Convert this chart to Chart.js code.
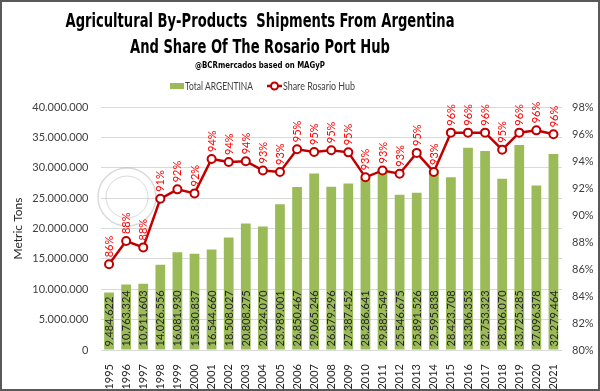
<!DOCTYPE html>
<html>
<head>
<meta charset="utf-8">
<script src="https://cdn.jsdelivr.net/npm/chart.js@4.4.0/dist/chart.umd.min.js"></script>
<style>
  html, body { margin: 0; padding: 0; background: #fff; }
  #wrap { position: relative; width: 600px; height: 391px; }
</style>
</head>
<body>
<div id="wrap"><canvas id="chart"></canvas></div>
<script>
// Data
const years = ["1995","1996","1997","1998","1999","2000","2001","2002","2003","2004","2005","2006","2007","2008","2009","2010","2011","2012","2013","2014","2015","2016","2017","2018","2019","2020","2021"]
const totalArgentina = [9484622, 10763324, 10911603, 14026556, 16081930, 15830837, 16544660, 18508027, 20808275, 20324070, 23989001, 26850467, 29065246, 26879296, 27387452, 28286641, 29882549, 25546675, 25891526, 29595838, 28423708, 33306353, 32753323, 28206070, 33725285, 27096378, 32279464]
const shareRosario = [86.35, 88.07, 87.6, 91.2, 91.9, 91.6, 94.15, 93.93, 93.98, 93.3, 93.19, 94.87, 94.67, 94.8, 94.64, 92.79, 93.3, 93.06, 94.6, 93.19, 96.1, 96.1, 96.1, 94.84, 96.1, 96.27, 95.98]
const titleLines = ["Agricultural By-Products  Shipments From Argentina", "And Share Of The Rosario Port Hub"]
const subtitle = "@BCRmercados based on MAGyP"

const green = "#9BBB59"
const darkRed = "#C00000"
const labelFont = "Lato, 'Liberation Sans', sans-serif"

// Format numbers with dots as thousands separator
function dots(n) {
  return Math.round(n).toString().replace(/\B(?=(\d{3})+(?!\d))/g, ".")
}

// Faint watermark seal behind the data
const watermark = {
  id: "watermark",
  beforeDatasetsDraw(chart) {
    const ctx = chart.ctx
    ctx.save()
    ctx.strokeStyle = "rgba(150,150,150,0.35)"
    ctx.lineWidth = 1.5
    ctx.beginPath()
    ctx.arc(127, 197, 29, 0, Math.PI * 2)
    ctx.stroke()
    ctx.lineWidth = 1
    ctx.beginPath()
    ctx.arc(127, 197, 21, 0, Math.PI * 2)
    ctx.stroke()
    ctx.restore()
  }
}

// Header: title, subtitle, legend and the outer frame
const headerPlugin = {
  id: "header",
  afterDraw(chart) {
    const ctx = chart.ctx
    const cx = 260
    ctx.save()
    ctx.fillStyle = "#000"
    ctx.textAlign = "center"
    ctx.textBaseline = "alphabetic"
    ctx.font = "bold 20px 'Liberation Sans Narrow', 'DejaVu Sans Condensed', sans-serif"
    ctx.fillText(titleLines[0], cx, 27, 389)
    ctx.fillText(titleLines[1], cx, 53, 260)
    ctx.font = "bold 9px 'Liberation Sans Narrow', 'DejaVu Sans Condensed', sans-serif"
    ctx.fillText(subtitle, cx, 68, 130)

    // legend
    ctx.fillStyle = green
    ctx.fillRect(170, 83, 14, 6)
    ctx.fillStyle = "#404040"
    ctx.textAlign = "left"
    ctx.textBaseline = "middle"
    ctx.font = "11px " + labelFont
    ctx.fillText("Total ARGENTINA", 185, 86.5, 68)
    ctx.strokeStyle = darkRed
    ctx.lineWidth = 2.5
    ctx.beginPath()
    ctx.moveTo(267, 86)
    ctx.lineTo(282, 86)
    ctx.stroke()
    ctx.fillStyle = "#fff"
    ctx.lineWidth = 2
    ctx.beginPath()
    ctx.arc(274.5, 86, 3.5, 0, Math.PI * 2)
    ctx.fill()
    ctx.stroke()
    ctx.fillStyle = "#404040"
    ctx.fillText("Share Rosario Hub", 283, 86.5, 72)

    // frame
    ctx.strokeStyle = "#595959"
    ctx.lineWidth = 2
    ctx.strokeRect(1, 1, 598, 389)
    ctx.restore()
  }
}

// Value labels on bars and points
const valueLabels = {
  id: "valueLabels",
  afterDatasetsDraw(chart) {
    const ctx = chart.ctx
    ctx.save()
    ctx.font = "11px " + labelFont
    ctx.textAlign = "left"
    ctx.textBaseline = "middle"

    ctx.fillStyle = "#262626"
    chart.getDatasetMeta(1).data.forEach((bar, i) => {
      ctx.save()
      ctx.translate(bar.x, bar.base - 3)
      ctx.rotate(-Math.PI / 2)
      ctx.fillText(dots(totalArgentina[i]), 0, 0.5)
      ctx.restore()
    })

    ctx.fillStyle = "#FF0000"
    chart.getDatasetMeta(0).data.forEach((pt, i) => {
      ctx.save()
      ctx.translate(pt.x, pt.y - 7)
      ctx.rotate(-Math.PI / 2)
      ctx.fillText(Math.round(shareRosario[i]) + "%", 0, 0.5)
      ctx.restore()
    })
    ctx.restore()
  }
}

const tickFont = { family: labelFont, size: 11 }

new Chart(document.getElementById("chart"), {
  type: "bar",
  data: {
    labels: years,
    datasets: [
      {
        type: "line",
        label: "Share Rosario Hub",
        data: shareRosario,
        yAxisID: "y1",
        order: 0,
        borderColor: darkRed,
        borderWidth: 2.5,
        pointRadius: 4,
        pointBorderWidth: 2,
        pointBackgroundColor: "#fff",
        pointBorderColor: darkRed,
        tension: 0,
      },
      {
        type: "bar",
        label: "Total ARGENTINA",
        data: totalArgentina,
        yAxisID: "y",
        order: 1,
        backgroundColor: green,
        categoryPercentage: 1,
        barPercentage: 0.57,
      },
    ],
  },
  options: {
    responsive: true,
    maintainAspectRatio: false,
    animation: false,
    layout: { padding: { top: 107, left: 0, right: 0, bottom: 0 } },
    plugins: {
      legend: { display: false },
      title: { display: false },
      tooltip: { enabled: false },
    },
    scales: {
      x: {
        grid: { display: false },
        border: { display: false },
        ticks: {
          color: "#262626",
          font: tickFont,
          minRotation: 90,
          maxRotation: 90,
          padding: 6,
          autoSkip: false,
        },
        afterFit(scale) { scale.height = 41 },
      },
      y: {
        position: "left",
        min: 0,
        max: 40000000,
        grid: { color: "#d9d9d9", drawTicks: false },
        border: { display: false },
        ticks: {
          stepSize: 5000000,
          color: "#404040",
          font: tickFont,
          padding: 12,
          callback: (v) => dots(v),
        },
        title: {
          display: true,
          text: "Metric Tons",
          color: "#262626",
          font: { family: labelFont, size: 12 },
          padding: { top: 11 },
        },
        afterFit(scale) { scale.width = 100.5 },
      },
      y1: {
        position: "right",
        min: 80,
        max: 98,
        grid: { display: false, drawTicks: false },
        border: { display: false },
        ticks: {
          stepSize: 2,
          color: "#404040",
          font: tickFont,
          padding: 10,
          callback: (v) => v + "%",
        },
        afterFit(scale) { scale.width = 38 },
      },
    },
  },
  plugins: [watermark, valueLabels, headerPlugin],
})
</script>
</body>
</html>
